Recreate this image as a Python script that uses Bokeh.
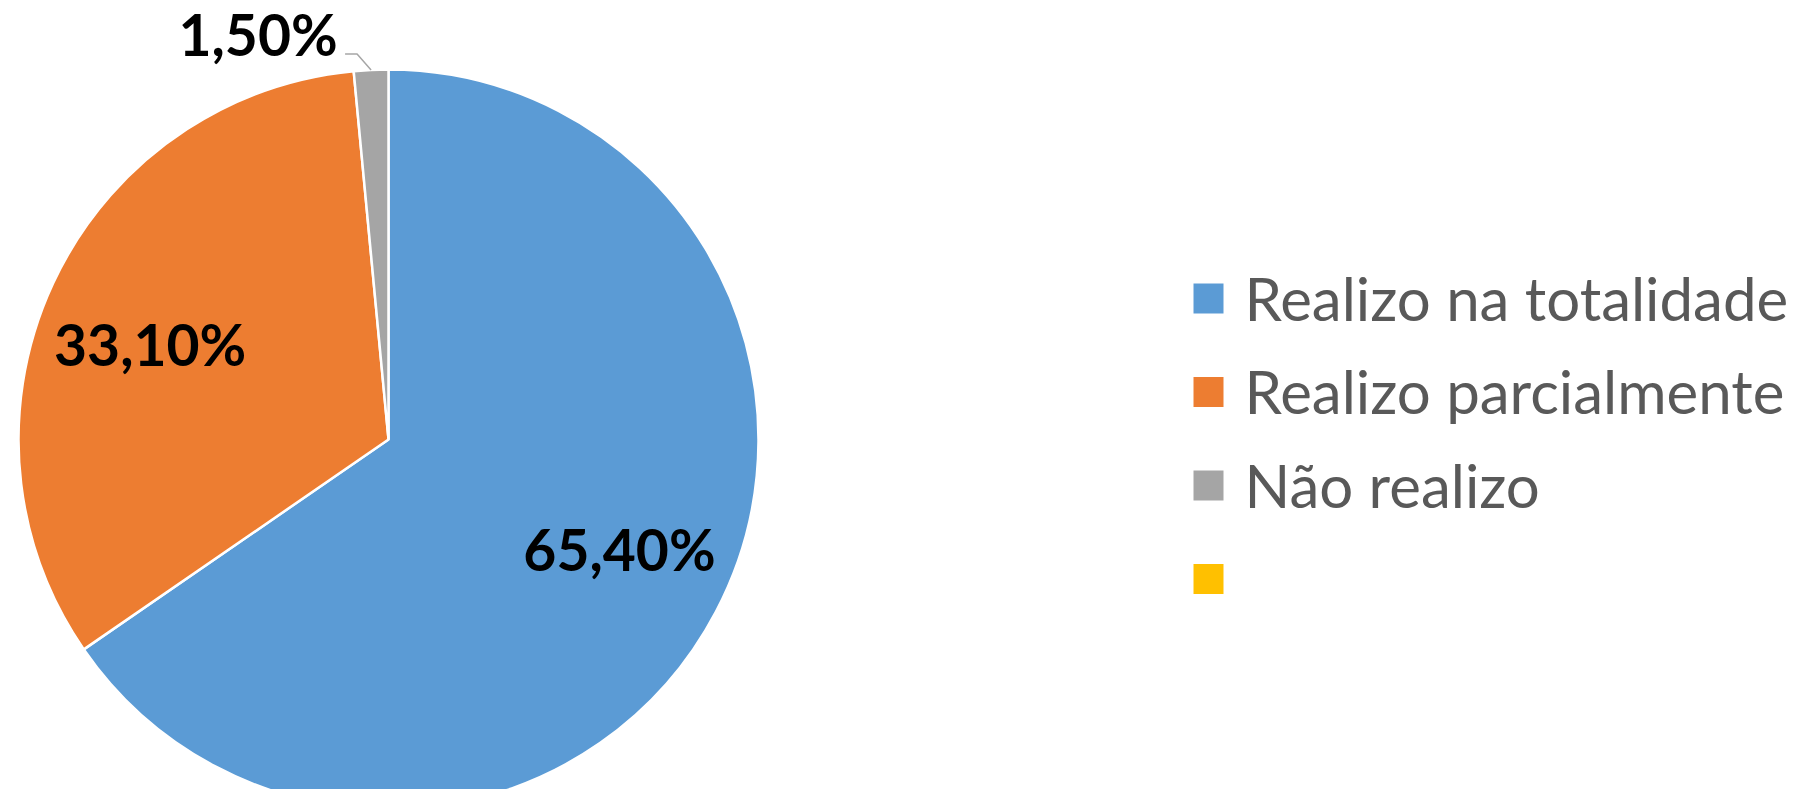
import math
from bokeh.plotting import figure
from bokeh.models import Range1d, ColumnDataSource
from bokeh.core.properties import value
from bokeh.embed import file_html
from bokeh.resources import INLINE

categories = ["Realizo na totalidade", "Realizo parcialmente", "Não realizo", ""]
values = [65.4, 33.1, 1.5, 0.0]
labels = ["65,40%", "33,10%", "1,50%", ""]
colors = ["#5B9BD5", "#ED7D31", "#A5A5A5", "#FFC000"]

W, H = 1798, 789
PAGE_H = 805

def up(y_screen):
    return PAGE_H - y_screen

p = figure(width=W, height=H, output_backend="svg", toolbar_location=None,
           x_range=Range1d(0, W), y_range=Range1d(up(H), up(0)),
           min_border=0, border_fill_color="white", background_fill_color="white")
p.axis.visible = False
p.grid.visible = False
p.outline_line_color = None

cx, cy, R = 388, up(439), 370
total = sum(values)
starts, ends, mids = [], [], []
a = math.pi / 2
for v in values:
    span = v / total * 2 * math.pi
    starts.append(a - span)
    ends.append(a)
    mids.append(a - span / 2)
    a -= span

src = ColumnDataSource(dict(start=starts[:3], end=ends[:3], color=colors[:3]))
p.wedge(x=cx, y=cy, radius=R, start_angle="start", end_angle="end",
        fill_color="color", line_color="white", line_width=2.5, source=src)

# data labels (best-fit nudges)
nudges = [(5, 9), (-7, -12)]
lx, ly, lt = [], [], []
for i in range(2):
    lx.append(cx + 0.69 * R * math.cos(mids[i]) + nudges[i][0])
    ly.append(cy + 0.69 * R * math.sin(mids[i]) + nudges[i][1])
    lt.append(labels[i])
p.text(x=lx, y=ly, text=lt, text_font=value("Lato"), text_font_style="bold",
       text_font_size="57px", text_color="black", text_align="center",
       text_baseline="middle")

# small slice label with leader line
ex = cx + R * math.cos(mids[2])
ey = cy + R * math.sin(mids[2])
p.line(x=[ex, ex - 14, ex - 26], y=[ey, ey + 16, ey + 16], line_color="#A6A6A6",
       line_width=1.5)
p.text(x=[ex - 113], y=[ey + 36], text=[labels[2]], text_font=value("Lato"),
       text_font_style="bold", text_font_size="57px", text_color="black",
       text_align="center", text_baseline="middle")

# legend
lg_x, lg_y0, lg_dy, sq = 1193, 298, 93.5, 30
ys = [up(lg_y0 + i * lg_dy) for i in range(len(categories))]
p.rect(x=[lg_x + sq / 2] * 4, y=ys, width=sq, height=sq, fill_color=colors,
       line_color=None)
p.text(x=[1244] * 4, y=[y + 1 for y in ys], text=categories, text_font=value("Lato"),
       text_font_size="60px", text_color="#595959", text_align="left",
       text_baseline="middle")

open("out.html", "w").write(file_html(p, INLINE))
